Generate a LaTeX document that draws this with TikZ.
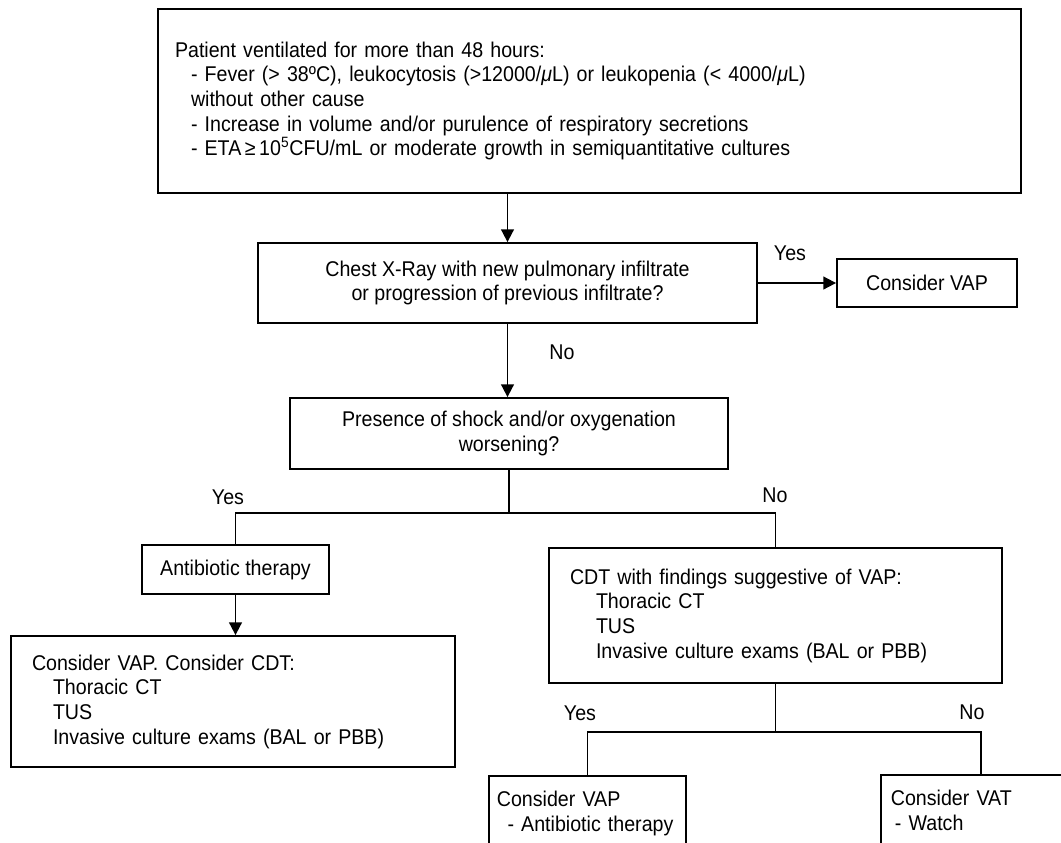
\documentclass[tikz,border=0pt]{standalone}
\usepackage{fontspec}
\setmainfont[FakeStretch=0.92]{Liberation Sans}
\usetikzlibrary{arrows.meta}
\newcommand{\ind}[1]{\hspace*{#1}}
\begin{document}
\begin{tikzpicture}[x=0.75pt,y=-0.75pt, line width=1.35pt,
  txt/.style={font=\fontsize{16}{18.5}\selectfont},
  box/.style={draw, rectangle, txt, inner sep=0pt},
  lbox/.style={box, align=left},
  cbox/.style={box, align=center},
  lbl/.style={txt, inner sep=0pt},
  arr/.style={-{Triangle[length=9.5pt,width=9.5pt]}}]
\useasboundingbox (0,0) rectangle (1061,843);
\clip (0,0) rectangle (1061,843);

\node[lbox, minimum width=647.25pt, minimum height=138pt, inner xsep=12.75pt, text width=621.75pt] (top) at (589.5,101)
 {Patient ventilated for more than 48 hours:\\
  \ind{12pt}- Fever (>\ 38ºC), leukocytosis (>12000/{\itshape μ}L) or leukopenia (<\ 4000/{\itshape μ}L)\\
  \ind{12pt}without other cause\\
  \ind{12pt}- Increase in volume and/or purulence of respiratory secretions\\
  \ind{12pt}- ETA\,≥\,10\textsuperscript{5}CFU/mL or moderate growth in semiquantitative cultures};

\node[cbox, minimum width=374.25pt, minimum height=60pt] (chest) at (507.5,283)
 {Chest X-Ray with new pulmonary infiltrate\\or progression of previous infiltrate?};

\node[cbox, minimum width=135pt, minimum height=36pt] (cvap) at (927,283) {Consider VAP};

\node[cbox, minimum width=328.5pt, minimum height=53.25pt] (shock) at (509,433.5)
 {Presence of shock and/or oxygenation\\worsening?};

\node[cbox, minimum width=140.25pt, minimum height=36.75pt] (antib) at (235.5,569.5) {Antibiotic therapy};

\node[lbox, minimum width=333pt, minimum height=98.25pt, inner xsep=15.75pt, text width=301.5pt] (bl) at (233,701.5)
 {Consider VAP. Consider CDT:\\
  \ind{15.75pt}Thoracic CT\\
  \ind{15.75pt}TUS\\
  \ind{15.75pt}Invasive culture exams (BAL or PBB)};

\node[lbox, minimum width=339.75pt, minimum height=101.25pt, inner xsep=15.75pt, text width=308.25pt] (cdt) at (775.5,615.5)
 {CDT with findings suggestive of VAP:\\
  \ind{19.5pt}Thoracic CT\\
  \ind{19.5pt}TUS\\
  \ind{19.5pt}Invasive culture exams (BAL or PBB)};

\node[lbox, anchor=north west, minimum width=141.75pt, text width=135.75pt, inner xsep=6pt, inner ysep=11.5pt, text depth=40pt] (vap2) at (488,775)
 {Consider VAP\\\ind{8pt}- Antibiotic therapy};

\node[lbox, anchor=north west, minimum width=142.5pt, text width=135pt, inner xsep=7.5pt, inner ysep=11.5pt, text depth=40pt] (vat) at (880,774)
 {Consider VAT\\\ind{3pt}- Watch};

\coordinate (s1) at (509,513);
\coordinate (s2) at (776,732);

\draw[arr] (top.south -| chest.north) -- (chest.north);
\draw[arr] (chest.east) -- (cvap.west);
\draw[arr] (chest.south) -- (chest.south |- shock.north);
\draw (shock.south) -- (shock.south |- s1);
\draw (antib.north) -- (antib.north |- s1) -- (cdt.north |- s1) -- (cdt.north);
\draw[arr] (antib.south) -- (antib.south |- bl.north);
\draw (cdt.south) -- (cdt.south |- s2);
\draw (vap2.north) -- (vap2.north |- s2) -- (vat.north |- s2) -- (vat.north);

\node[lbl] (y1) at (790,253) {Yes};
\node[lbl] (n1) at (562,352) {No};
\node[lbl] (y2) at (228,497) {Yes};
\node[lbl] (n2) at (775,495) {No};
\node[lbl] (y3) at (580,713) {Yes};
\node[lbl] (n3) at (972,712) {No};
\end{tikzpicture}
\end{document}
